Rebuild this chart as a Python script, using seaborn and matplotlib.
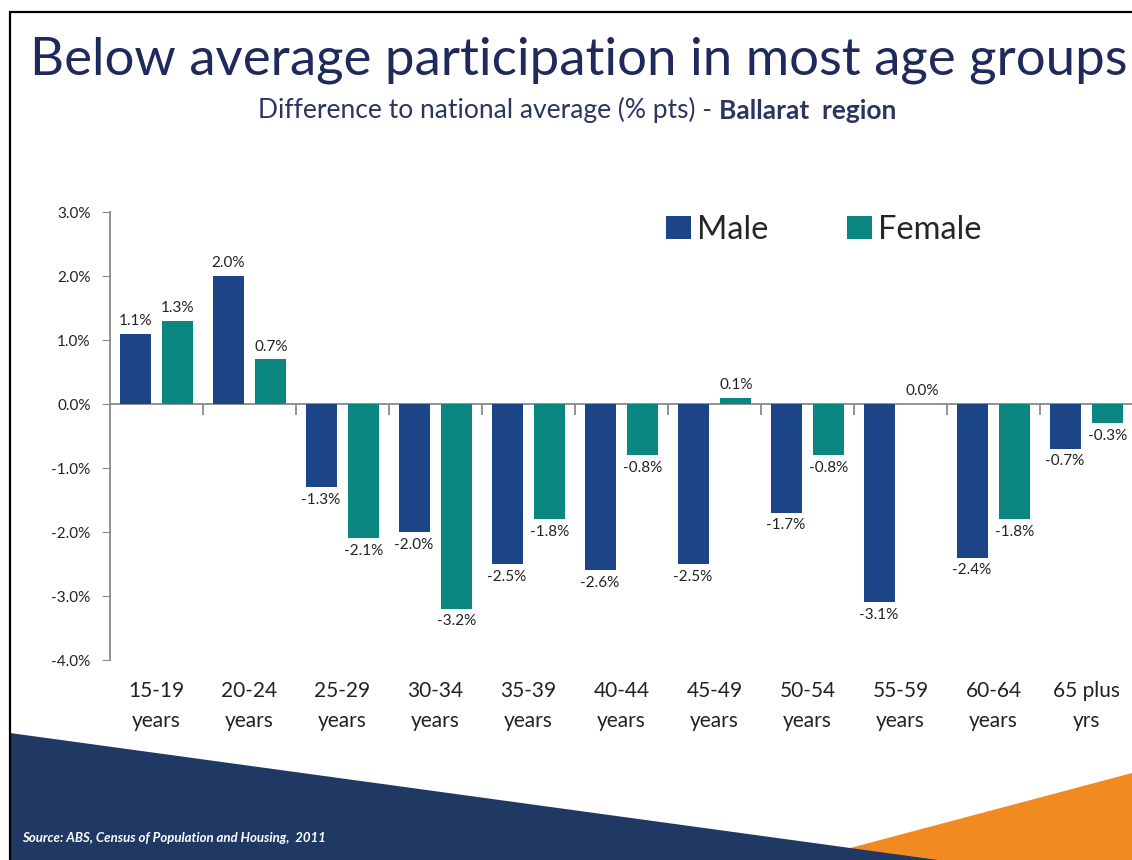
import numpy as np
import pandas as pd
import matplotlib.pyplot as plt
import matplotlib.ticker as mticker
from matplotlib.patches import Polygon, Rectangle
import seaborn as sns

# Data
age_groups = ["15-19\nyears", "20-24\nyears", "25-29\nyears", "30-34\nyears",
              "35-39\nyears", "40-44\nyears", "45-49\nyears", "50-54\nyears",
              "55-59\nyears", "60-64\nyears", "65 plus\nyrs"]
male = [1.1, 2.0, -1.3, -2.0, -2.5, -2.6, -2.5, -1.7, -3.1, -2.4, -0.7]
female = [1.3, 0.7, -2.1, -3.2, -1.8, -0.8, 0.1, -0.8, 0.0, -1.8, -0.3]
sexes = ["Male", "Female"]
colors = ["#1B4586", "#0A8780"]

df = pd.DataFrame({
    "age": age_groups * 2,
    "sex": ["Male"] * len(male) + ["Female"] * len(female),
    "diff": male + female,
})

sns.set_style("ticks")
plt.rcParams['font.family'] = ['Lato', 'DejaVu Sans']

W, H = 1132, 860
fig = plt.figure(figsize=(W / 100, H / 100), dpi=100)
ax = fig.add_axes([110 / W, 1 - 660 / H, 1023 / W, 448 / H])

sns.barplot(data=df, x="age", y="diff", hue="sex", hue_order=sexes,
            palette=colors, width=0.92, gap=0.28, linewidth=0,
            saturation=1, ax=ax)

# value labels
for cont, vals in zip(ax.containers, [male, female]):
    ax.bar_label(cont, labels=[f"{v:.1f}%" for v in vals], padding=4,
                 fontsize=11, color="#222222")

ax.set_ylim(-4, 3)
ax.set_xlim(-0.5, 10.5)
ax.set_yticks(np.arange(-4, 3.5, 1))
ax.yaxis.set_major_formatter(mticker.FormatStrFormatter('%.1f%%'))
ax.set_xlabel("")
ax.set_ylabel("")

sns.despine(ax=ax, top=True, right=True, bottom=True)
ax.spines['left'].set_color("#8a8a8a")
ax.spines['left'].set_linewidth(1.3)
ax.tick_params(axis='y', direction='out', length=6, color="#8a8a8a",
               labelsize=11, labelcolor="#222222", pad=8)
ax.tick_params(axis='x', length=0, labelsize=15, labelcolor="#222222", pad=15)
for lbl in ax.get_xticklabels():
    lbl.set_linespacing(1.65)

# zero line with category separators
secax = ax.secondary_xaxis(4 / 7)
secax.set_alignment('bottom')
secax.set_xticks(np.arange(0.5, 10.5, 1))
secax.set_xticklabels([])
secax.spines['bottom'].set_color("#8a8a8a")
secax.spines['bottom'].set_linewidth(1.3)
secax.tick_params(direction='out', length=8, color="#8a8a8a", width=1.3)

sns.move_legend(ax, "center left", bbox_to_anchor=(0.528, 0.96), ncol=2,
                frameon=False, title=None, fontsize=23.5, handlelength=0.75,
                handleheight=0.75, handletextpad=0.2, columnspacing=2.4,
                borderpad=0)

# titles
fig.text(579 / W, 1 - 60 / H, "Below average participation in most age groups",
         ha='center', va='center', fontsize=38, color="#1F2A5C")
sub = fig.text(258 / W, 1 - 110 / H, "Difference to national average (% pts) - ",
               ha='left', va='center', fontsize=19, color="#2B3560")
ax.annotate("Ballarat  region", xy=(1, 0), xycoords=sub, va='bottom', ha='left',
            fontsize=19, fontweight='bold', color="#2B3560")

# slide decoration
fig.patches.append(Polygon([(805 / W, 0), (1, 0), (1, 1 - 773 / H)],
                           closed=True, transform=fig.transFigure,
                           facecolor="#F28A22", edgecolor='none', zorder=0))
fig.patches.append(Polygon([(10 / W, 1 - 733 / H), (10 / W, 0), (938 / W, 0)],
                           closed=True, transform=fig.transFigure,
                           facecolor="#1F3864", edgecolor='none', zorder=1))
fig.patches.append(Rectangle((10 / W, -0.05), 1.2, 1.05 - 12 / H, fill=False,
                             transform=fig.transFigure, edgecolor="black",
                             linewidth=1.6, zorder=5))
fig.text(22 / W, 1 - 838 / H, "Source: ABS, Census of Population and Housing,  2011",
         ha='left', va='center', fontsize=9.5, color="white", style='italic',
         fontweight='bold')

fig.savefig("out.png", dpi=100)
